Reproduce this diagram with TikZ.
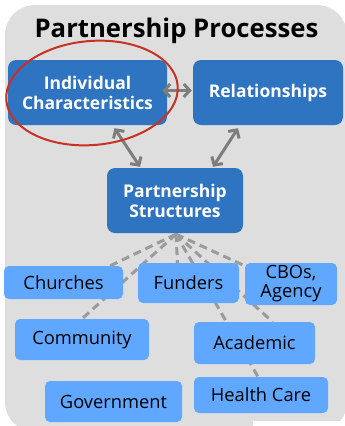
\documentclass[tikz,border=0pt]{standalone}
\usepackage{fontspec}
\setmainfont{Open Sans}
\usetikzlibrary{arrows.meta,calc}
\definecolor{bgray}{RGB}{222,222,222}
\definecolor{dblue}{RGB}{46,116,192}
\definecolor{lblue}{RGB}{96,168,255}
\definecolor{agray}{RGB}{125,125,125}
\definecolor{dgray}{RGB}{155,155,155}
\definecolor{ered}{RGB}{200,50,35}
\pgfdeclarelayer{bg}
\pgfdeclarelayer{spokes}
\pgfsetlayers{bg,spokes,main}
\begin{document}
\begin{tikzpicture}[x=1pt,y=-1pt,
 darkbox/.style={fill=dblue, rounded corners=8pt, text=white, font=\fontsize{17.5}{20}\selectfont\bfseries, align=center, inner sep=0pt},
 lightbox/.style={fill=lblue, rounded corners=5pt, text=black, font=\fontsize{18.3}{19}\selectfont, align=center, inner sep=0pt},
 link/.style={draw=agray, line width=3pt, {Straight Barb[length=6pt,width=13pt]}-{Straight Barb[length=6pt,width=13pt]}},
 spoke/.style={draw=dgray, line width=3pt, dash pattern=on 8pt off 5pt}]
\useasboundingbox (0,0) rectangle (345,426);
\begin{pgfonlayer}{bg}
\fill[bgray, rounded corners=30pt] (5,5) rectangle (347,432);
\fill[white] (253,421) rectangle (345,426);
\end{pgfonlayer}
\node[font=\fontsize{25.7}{28}\selectfont\bfseries] (title) at (176.5,31) {Partnership Processes};
\node[darkbox, minimum width=159pt, minimum height=65pt] (indiv) at (87.5,92.5) {Individual\\Characteristics};
\node[darkbox, minimum width=150pt, minimum height=65pt] (rel) at (268,92.5) {Relationships};
\node[darkbox, minimum width=136pt, minimum height=65pt] (struct) at (175,200.5) {Partnership\\Structures};
\node[lightbox, minimum width=119pt, minimum height=33pt] (churches) at (63.5,282.5) {Churches};
\node[lightbox, minimum width=101pt, minimum height=40pt] (funders) at (188.5,283) {Funders};
\node[lightbox, minimum width=92pt, minimum height=42pt] (cbos) at (291,284) {CBOs,\\Agency};
\node[lightbox, minimum width=134pt, minimum height=41pt] (community) at (82,339.5) {Community};
\node[lightbox, minimum width=121pt, minimum height=42pt] (academic) at (254.5,343) {Academic};
\node[lightbox, minimum width=137pt, minimum height=41pt] (government) at (113.5,401.5) {Government};
\node[lightbox, minimum width=134pt, minimum height=36pt] (health) at (261,395) {Health Care};
\begin{pgfonlayer}{spokes}
\coordinate (apex) at ($(struct.south)+(1,1)$);
\draw[spoke] (apex) -- ($(churches.north east)+(-13,0)$);
\draw[spoke] (apex) -- (community.north);
\draw[spoke] (apex) -- ($(funders.north)+(-11,0)$);
\draw[spoke] (apex) -- ($(health.north)+(-3,0)$);
\draw[spoke] (apex) -- ($(academic.north)+(18,0)$);
\draw[spoke] (apex) -- ($(cbos.north west)+(2,4)$);
\end{pgfonlayer}
\draw[link] ($(indiv.east)+(-5,-2)$) -- ($(rel.west)+(-1,-2)$);
\draw[link] ($(indiv.south)+(27,3)$) -- ($(struct.north)+(-35,-1)$);
\draw[link] ($(rel.south)+(-30,3)$) -- ($(struct.north)+(38,-1)$);
\draw[ered, line width=2pt, rotate around={5:(92,93)}] (92,93) ellipse [x radius=86pt, y radius=52pt];
\end{tikzpicture}
\end{document}
